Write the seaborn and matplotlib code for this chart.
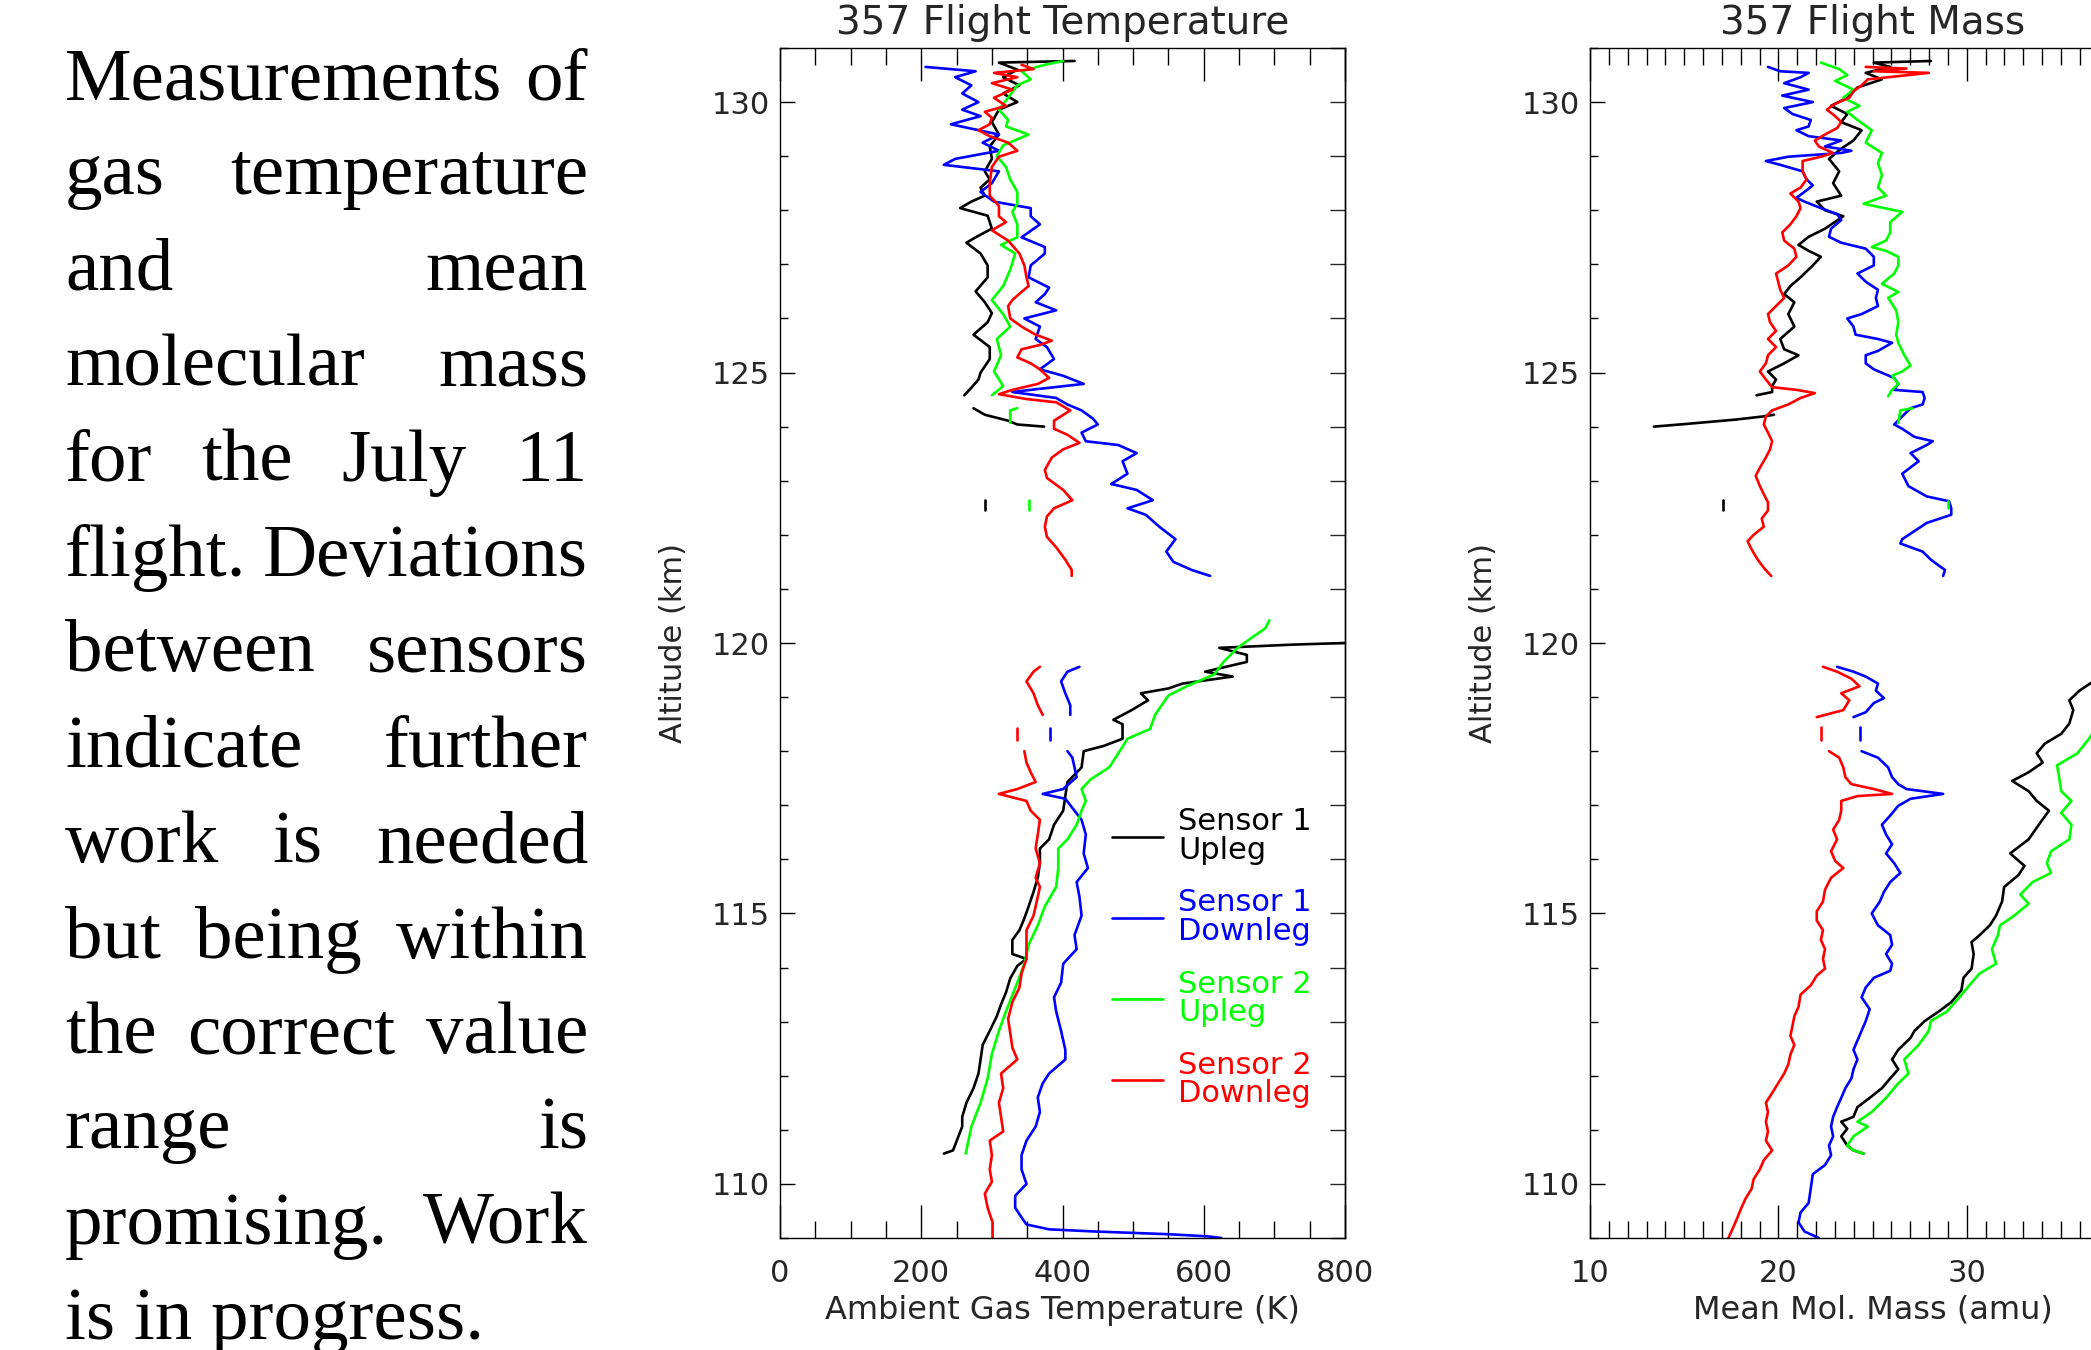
import numpy as np
import pandas as pd
import matplotlib
matplotlib.use("Agg")
import matplotlib.pyplot as plt
from matplotlib.lines import Line2D
from matplotlib.ticker import MultipleLocator
import seaborn as sns

nan = np.nan

# ==============================
#   DATA
# ==============================
SENSORS = ["S1 Upleg", "S1 Downleg", "S2 Upleg", "S2 Downleg"]
LEGEND_LABELS = ["Sensor 1\nUpleg", "Sensor 1\nDownleg", "Sensor 2\nUpleg", "Sensor 2\nDownleg"]
COLORS = ["#000000", "#0000ff", "#00ff00", "#ff0000"]

# --- temperature (K) vs altitude (km); nan = gap in the profile ---
temp_s1_up_alt = [110.56, 110.62, 111.06, 111.24, 111.50, 111.77, 112.04, 112.30, 112.57, 112.83,
                  113.10, 113.32, 113.54, 113.80, 114.03, 114.16, 114.25, 114.51, 114.69, 114.91,
                  115.13, 115.40, 115.66, 115.93, 116.20, 116.37, 116.64, 116.90, 117.17, 117.43,
                  117.70, 118.00, 118.10, 118.23, 118.50, 118.58, 118.76, 118.94, 119.07, 119.16,
                  119.25, 119.38, 119.47, 119.65, 119.78, 119.91, 119.97, 120.00,
                  nan, 122.45, 122.64,
                  nan, 124.00, 124.04, 124.11, 124.22, 124.34,
                  nan, 124.58, 124.72, 124.87, 125.00, 125.25, 125.47, 125.70, 125.93, 126.10, 126.30,
                  126.50, 126.76, 126.98, 127.20, 127.40, 127.50, 127.66, 127.90, 128.04, 128.16,
                  128.27, 128.42, 128.57, 128.72, 128.95, 129.18, 129.40, 129.63, 129.86, 130.00,
                  130.16, 130.31, 130.46, 130.60, 130.73, 130.76]
temp_s1_up_val = [232, 245, 258, 258, 264, 274, 281, 284, 287, 297,
                  307, 313, 320, 326, 336, 349, 329, 329, 339, 346,
                  352, 359, 365, 368, 368, 381, 388, 401, 404, 407,
                  427, 430, 459, 485, 485, 472, 498, 521, 511, 550,
                  570, 641, 602, 661, 661, 622, 726, 800,
                  nan, 290, 290,
                  nan, 374, 336, 323, 290, 274,
                  nan, 261, 271, 281, 284, 297, 297, 274, 294, 300, 290,
                  277, 294, 294, 284, 264, 277, 300, 294, 255, 271,
                  290, 284, 297, 290, 300, 297, 310, 300, 310, 336,
                  316, 339, 316, 336, 310, 417]

temp_s1_dn_alt = [109.00, 109.03, 109.07, 109.12, 109.16, 109.25, 109.38, 109.56, 109.78, 110.00,
                  110.27, 110.53, 110.80, 111.06, 111.33, 111.60, 111.86, 112.04, 112.30, 112.48,
                  112.83, 113.19, 113.45, 113.72, 114.07, 114.34, 114.60, 114.96, 115.31, 115.58,
                  115.84, 116.11, 116.46, 116.73, 116.90, 117.12, 117.21, 117.30, 117.52, 117.70,
                  117.88, 118.00,
                  nan, 118.20, 118.42,
                  nan, 118.67, 118.85, 119.07, 119.29, 119.47, 119.56,
                  nan, 121.24, 121.35, 121.50, 121.69, 121.92, 122.15, 122.37, 122.49, 122.64, 122.83,
                  122.94, 123.13, 123.36, 123.51, 123.66, 123.73, 123.89, 124.04, 124.15, 124.30,
                  124.41, 124.53, 124.64, 124.68, 124.79, 124.94, 125.06, 125.25, 125.47, 125.62,
                  125.85, 126.00, 126.15, 126.30, 126.45, 126.57, 126.76, 126.98, 127.20, 127.32,
                  127.50, 127.74, 127.89, 128.04, 128.16, 128.34, 128.50, 128.72, 128.84, 128.95,
                  129.10, 129.25, 129.40, 129.59, 129.74, 129.86, 130.00, 130.16, 130.31, 130.46,
                  130.57, 130.65]
temp_s1_dn_val = [625, 606, 550, 446, 381, 349, 342, 333, 333, 349,
                  342, 342, 349, 362, 368, 365, 372, 381, 404, 404,
                  398, 391, 388, 398, 401, 420, 417, 427, 424, 420,
                  436, 430, 433, 427, 417, 404, 372, 401, 420, 417,
                  414, 407,
                  nan, 383, 383,
                  nan, 411, 411, 404, 398, 407, 424,
                  nan, 609, 583, 557, 547, 560, 537, 518, 492, 528, 505,
                  469, 492, 485, 505, 479, 433, 427, 450, 443, 427,
                  407, 391, 329, 355, 430, 401, 368, 388, 378, 362,
                  368, 346, 391, 362, 375, 381, 352, 355, 375, 375,
                  342, 368, 355, 355, 303, 284, 300, 310, 232, 248,
                  310, 287, 310, 242, 284, 258, 281, 258, 271, 248,
                  277, 206]

temp_s2_up_alt = [110.56, 111.06, 111.50, 111.95, 112.40, 112.83, 113.19, 113.72, 114.07, 114.42,
                  114.78, 115.13, 115.49, 115.84, 116.20, 116.37, 116.64, 116.90, 117.08, 117.30,
                  117.48, 117.70, 117.96, 118.23, 118.41, 118.67, 119.03, 119.20, 119.42, 119.65,
                  119.91, 120.09, 120.27, 120.42,
                  nan, 122.45, 122.64,
                  nan, 124.07, 124.30, 124.34,
                  nan, 124.58, 124.75, 125.02, 125.32, 125.62, 125.85, 126.08, 126.34, 126.60, 126.90,
                  127.20, 127.36, 127.50, 127.74, 127.97, 128.12, 128.34, 128.57, 128.80, 129.00,
                  129.20, 129.40, 129.55, 129.67, 129.86, 130.08, 130.31, 130.42, 130.57, 130.69,
                  130.76]
temp_s2_up_val = [263, 271, 284, 294, 300, 310, 320, 336, 346, 352,
                  365, 375, 391, 394, 394, 407, 420, 427, 433, 427,
                  440, 466, 479, 492, 524, 531, 550, 576, 615, 628,
                  648, 667, 687, 693,
                  nan, 353, 353,
                  nan, 326, 326, 336,
                  nan, 300, 316, 303, 313, 307, 326, 316, 300, 316, 326,
                  333, 313, 336, 336, 329, 336, 336, 326, 320, 307,
                  316, 352, 320, 323, 310, 323, 336, 355, 342, 375,
                  401]

temp_s2_dn_alt = [109.00, 109.29, 109.56, 109.82, 110.04, 110.27, 110.53, 110.80, 110.97, 111.24,
                  111.50, 111.77, 112.04, 112.30, 112.52, 112.79, 113.05, 113.36, 113.63, 113.89,
                  114.16, 114.47, 114.69, 114.96, 115.31, 115.49, 115.66, 115.93, 116.20, 116.46,
                  116.73, 116.90, 117.08, 117.21, 117.30, 117.43, 117.61, 117.79, 118.00,
                  nan, 118.20, 118.42,
                  nan, 118.67, 118.85, 119.07, 119.29, 119.47, 119.56,
                  nan, 121.24, 121.35, 121.54, 121.77, 121.96, 122.15, 122.34, 122.49, 122.64, 122.83,
                  123.05, 123.20, 123.43, 123.58, 123.70, 123.85, 123.96, 124.11, 124.30, 124.45,
                  124.51, 124.60, 124.68, 124.79, 124.90, 125.06, 125.17, 125.28, 125.43, 125.51,
                  125.59, 125.70, 125.85, 126.00, 126.23, 126.34, 126.49, 126.60, 126.76, 126.98,
                  127.20, 127.44, 127.63, 127.78, 127.89, 128.08, 128.27, 128.50, 128.80, 128.99,
                  129.10, 129.25, 129.37, 129.48, 129.59, 129.71, 129.82, 129.93, 130.08, 130.23,
                  130.35, 130.46, 130.54, 130.61, 130.69]
temp_s2_dn_val = [301, 301, 294, 290, 300, 297, 300, 297, 316, 313,
                  310, 316, 313, 336, 329, 326, 323, 329, 339, 342,
                  349, 349, 349, 359, 365, 368, 362, 368, 362, 365,
                  368, 355, 349, 310, 336, 362, 355, 349, 346,
                  nan, 336, 336,
                  nan, 372, 365, 359, 349, 359, 368,
                  nan, 413, 413, 404, 391, 378, 375, 378, 388, 414, 401,
                  378, 375, 385, 401, 424, 407, 388, 388, 411, 391,
                  349, 310, 329, 365, 381, 368, 355, 336, 342, 368,
                  385, 362, 342, 326, 323, 329, 342, 352, 349, 346,
                  339, 323, 300, 320, 310, 310, 297, 297, 300, 310,
                  336, 323, 297, 281, 297, 300, 290, 320, 303, 329,
                  300, 336, 303, 359, 342]

# --- mean molecular mass (amu) vs altitude (km) ---
mass_s1_up_alt = [110.56, 110.62, 110.71, 110.88, 111.02, 111.15, 111.24, 111.42, 111.59, 111.77,
                  111.95, 112.12, 112.30, 112.48, 112.70, 112.83, 113.01, 113.19, 113.36, 113.58,
                  113.81, 113.98, 114.25, 114.47, 114.60, 114.78, 114.96, 115.22, 115.49, 115.71,
                  115.88, 116.11, 116.37, 116.64, 116.90, 117.08, 117.26, 117.45, 117.61, 117.79,
                  117.96, 118.14, 118.32, 118.51, 118.76, 118.94, 119.12, 119.40, 119.70, 120.00,
                  nan, 122.45, 122.64,
                  nan, 124.00, 124.05, 124.13, 124.19, 124.22,
                  nan, 124.58, 124.64, 124.75, 124.87, 125.02, 125.17, 125.32, 125.43, 125.62, 125.85,
                  126.08, 126.30, 126.45, 126.60, 126.76, 126.98, 127.14, 127.25, 127.36, 127.51,
                  127.66, 127.89, 128.00, 128.16, 128.27, 128.50, 128.72, 128.95, 129.14, 129.29,
                  129.48, 129.63, 129.78, 129.93, 130.08, 130.27, 130.42, 130.54, 130.65, 130.73,
                  130.76]
mass_s1_up_val = [24.53, 23.99, 23.66, 23.34, 23.66, 23.34, 23.99, 24.20, 24.85, 25.50,
                  25.94, 26.37, 26.04, 26.37, 27.02, 27.23, 27.77, 28.53, 29.18, 29.72,
                  29.83, 30.26, 30.37, 30.26, 30.69, 31.23, 31.56, 31.88, 31.99, 32.75,
                  33.07, 32.31, 33.29, 33.83, 34.37, 33.72, 33.29, 32.42, 33.29, 34.04,
                  33.72, 34.15, 35.02, 35.45, 35.66, 35.45, 35.99, 37.20, 38.40, 39.50,
                  nan, 17.07, 17.07,
                  nan, 13.39, 15.12, 17.72, 19.23, 19.77,
                  nan, 18.84, 19.67, 19.67, 19.88, 19.45, 20.31, 21.07, 20.31, 20.10, 20.85,
                  20.53, 20.85, 20.31, 20.64, 21.18, 21.83, 22.26, 21.61, 21.07, 21.61,
                  22.48, 23.45, 22.48, 22.04, 23.34, 22.91, 23.23, 22.69, 23.34, 23.99,
                  24.42, 23.34, 23.66, 22.80, 23.66, 24.20, 25.50, 24.64, 25.94, 25.07,
                  28.10]

mass_s1_dn_alt = [109.00, 109.12, 109.29, 109.47, 109.65, 109.91, 110.18, 110.35, 110.53, 110.71,
                  110.88, 111.06, 111.24, 111.42, 111.59, 111.77, 111.95, 112.12, 112.30, 112.48,
                  112.65, 112.83, 113.01, 113.23, 113.45, 113.63, 113.81, 113.94, 114.07, 114.25,
                  114.42, 114.60, 114.78, 115.00, 115.22, 115.40, 115.58, 115.75, 115.93, 116.11,
                  116.28, 116.46, 116.64, 116.81, 116.99, 117.12, 117.21, 117.30, 117.39, 117.52,
                  117.70, 117.88, 118.00,
                  nan, 118.20, 118.45,
                  nan, 118.63, 118.72, 118.89, 118.98, 119.12, 119.25, 119.38, 119.47, 119.56,
                  nan, 121.24, 121.35, 121.43, 121.54, 121.69, 121.84, 121.92, 122.07, 122.22, 122.37,
                  122.49, 122.62, 122.71, 122.90, 123.13, 123.36, 123.51, 123.66, 123.73, 123.81,
                  123.96, 124.04, 124.19, 124.34, 124.41, 124.53, 124.64, 124.68, 124.79, 124.90,
                  125.06, 125.17, 125.32, 125.40, 125.55, 125.62, 125.70, 125.85, 126.00, 126.08,
                  126.23, 126.38, 126.53, 126.68, 126.83, 126.98, 127.14, 127.29, 127.40, 127.51,
                  127.66, 127.82, 127.93, 128.04, 128.16, 128.23, 128.34, 128.46, 128.57, 128.72,
                  128.84, 128.91, 128.99, 129.06, 129.10, 129.18, 129.29, 129.37, 129.48, 129.55,
                  129.67, 129.78, 129.89, 130.00, 130.12, 130.23, 130.35, 130.46, 130.54, 130.57,
                  130.65]
mass_s1_dn_val = [22.15, 21.39, 21.07, 21.18, 21.61, 21.72, 21.83, 22.48, 22.80, 22.69,
                  22.91, 22.80, 22.91, 23.12, 23.34, 23.56, 23.88, 23.99, 24.20, 23.99,
                  24.20, 24.42, 24.64, 24.85, 24.42, 24.64, 25.07, 25.94, 26.04, 25.72,
                  26.04, 25.94, 25.29, 24.96, 25.39, 25.61, 25.94, 26.48, 26.15, 25.72,
                  26.04, 25.72, 25.50, 25.94, 26.37, 27.02, 28.75, 26.80, 26.37, 26.04,
                  25.83, 25.29, 24.42,
                  nan, 24.31, 24.31,
                  nan, 23.99, 24.64, 25.07, 25.61, 25.18, 25.29, 24.64, 23.99, 23.12,
                  nan, 28.75, 28.85, 28.53, 28.10, 27.66, 26.48, 26.58, 27.23, 27.88, 29.18,
                  29.18, 29.07, 27.88, 26.91, 26.58, 27.45, 27.02, 27.88, 28.20, 27.23,
                  26.58, 26.15, 26.58, 27.02, 27.66, 27.77, 27.66, 26.15, 26.37, 26.15,
                  25.07, 24.64, 24.64, 25.29, 26.04, 25.29, 24.10, 23.99, 23.66, 24.42,
                  25.29, 25.18, 25.29, 24.64, 24.20, 25.07, 25.07, 24.64, 23.34, 22.69,
                  22.80, 23.34, 23.12, 22.26, 21.39, 20.96, 21.39, 21.83, 21.50, 21.29,
                  20.10, 19.34, 20.53, 23.34, 23.88, 22.48, 23.34, 21.61, 20.96, 21.61,
                  21.72, 20.75, 20.31, 21.83, 20.21, 21.61, 20.31, 21.18, 21.61, 20.10,
                  19.45]

mass_s2_up_alt = [110.56, 110.62, 110.71, 110.88, 111.06, 111.15, 111.33, 111.59, 111.86, 112.04,
                  112.30, 112.57, 112.83, 113.01, 113.19, 113.45, 113.72, 113.89, 114.07, 114.34,
                  114.60, 114.78, 114.96, 115.18, 115.35, 115.58, 115.75, 115.93, 116.15, 116.37,
                  116.64, 116.86, 117.08, 117.26, 117.52, 117.74, 117.96, 118.23, 118.80, 119.40,
                  120.00,
                  nan, 122.50, 122.62,
                  nan, 124.07, 124.30, 124.34,
                  nan, 124.56, 124.68, 124.79, 124.94, 125.02, 125.13, 125.32, 125.55, 125.70, 125.93,
                  126.15, 126.38, 126.49, 126.64, 126.83, 126.98, 127.14, 127.25, 127.32, 127.44,
                  127.59, 127.78, 127.97, 128.12, 128.27, 128.42, 128.65, 128.87, 129.06, 129.25,
                  129.48, 129.67, 129.82, 129.93, 130.08, 130.23, 130.39, 130.50, 130.61, 130.73]
mass_s2_up_val = [24.53, 23.99, 23.66, 23.99, 24.75, 24.20, 24.96, 25.72, 26.37, 26.91,
                  26.69, 27.45, 27.99, 28.10, 28.96, 29.61, 30.26, 30.69, 31.56, 31.34,
                  31.66, 31.77, 32.53, 33.29, 32.85, 33.50, 34.48, 34.26, 34.48, 35.45,
                  35.56, 35.02, 35.56, 35.02, 34.91, 34.80, 35.88, 36.49, 37.60, 38.70,
                  39.80,
                  nan, 29.00, 29.00,
                  nan, 26.37, 26.48, 27.12,
                  nan, 25.83, 26.04, 26.37, 26.04, 26.58, 27.02, 26.69, 26.37, 26.26, 26.37,
                  26.26, 25.83, 26.37, 25.50, 26.15, 26.37, 26.37, 25.72, 24.96, 25.72,
                  25.94, 25.94, 26.58, 24.53, 25.72, 25.29, 25.50, 25.29, 25.50, 24.64,
                  24.96, 24.20, 23.66, 24.31, 23.45, 23.99, 23.02, 23.66, 23.23, 22.26]

mass_s2_dn_alt = [109.00, 109.20, 109.38, 109.56, 109.73, 109.91, 110.09, 110.27, 110.44, 110.62,
                  110.80, 110.97, 111.15, 111.33, 111.50, 111.68, 111.86, 112.04, 112.21, 112.39,
                  112.57, 112.74, 112.92, 113.10, 113.27, 113.50, 113.67, 113.85, 113.98, 114.16,
                  114.34, 114.51, 114.69, 114.87, 115.04, 115.22, 115.44, 115.66, 115.84, 115.97,
                  116.15, 116.37, 116.55, 116.73, 116.90, 117.08, 117.17, 117.21, 117.30, 117.39,
                  117.52, 117.70, 117.88, 118.00,
                  nan, 118.20, 118.45,
                  nan, 118.63, 118.76, 118.94, 119.07, 119.20, 119.34, 119.47, 119.56,
                  nan, 121.24, 121.39, 121.54, 121.73, 121.88, 122.00, 122.15, 122.30, 122.45, 122.60,
                  122.75, 122.90, 123.09, 123.24, 123.43, 123.58, 123.73, 123.89, 124.04, 124.19,
                  124.30, 124.41, 124.53, 124.62, 124.68, 124.73, 124.87, 125.02, 125.17, 125.32,
                  125.47, 125.62, 125.77, 125.93, 126.08, 126.23, 126.38, 126.53, 126.68, 126.83,
                  126.98, 127.14, 127.29, 127.44, 127.59, 127.74, 127.89, 128.04, 128.16, 128.31,
                  128.42, 128.57, 128.72, 128.91, 128.99, 129.06, 129.18, 129.29, 129.40, 129.52,
                  129.63, 129.74, 129.86, 129.97, 130.08, 130.20, 130.31, 130.42, 130.54, 130.57,
                  130.62, 130.65]
mass_s2_dn_val = [17.35, 17.61, 17.83, 18.04, 18.26, 18.58, 18.69, 19.02, 19.23, 19.67,
                  19.34, 19.45, 19.34, 19.45, 19.34, 19.67, 19.99, 20.31, 20.53, 20.64,
                  20.85, 20.64, 20.75, 20.85, 21.07, 21.18, 21.72, 22.04, 22.48, 22.37,
                  22.48, 22.26, 22.37, 22.04, 22.04, 22.37, 22.48, 22.80, 23.45, 23.02,
                  22.80, 23.12, 22.91, 23.23, 23.34, 23.34, 24.20, 26.04, 25.07, 23.88,
                  23.56, 23.45, 23.23, 22.69,
                  nan, 22.26, 22.26,
                  nan, 22.04, 23.45, 23.77, 23.34, 24.31, 23.88, 23.12, 22.37,
                  nan, 19.62, 19.23, 18.91, 18.58, 18.37, 18.69, 19.23, 19.12, 19.45, 19.45,
                  19.23, 19.02, 18.80, 19.02, 19.34, 19.56, 19.67, 19.45, 19.23, 19.34,
                  19.67, 20.53, 21.18, 21.94, 20.96, 19.67, 19.34, 19.02, 19.34, 19.45,
                  19.88, 19.45, 19.88, 19.56, 19.45, 19.88, 20.31, 20.10, 19.99, 19.88,
                  20.53, 20.96, 20.85, 20.31, 20.21, 20.64, 20.96, 21.18, 21.07, 20.64,
                  21.18, 21.50, 21.29, 21.29, 22.26, 22.91, 22.15, 21.94, 22.48, 23.12,
                  23.34, 23.02, 22.58, 23.02, 23.77, 23.99, 24.42, 24.75, 27.99, 25.07,
                  26.80, 24.64]

TEXT_LINES = ["Measurements of", "gas temperature", "and mean", "molecular mass",
              "for the July 11", "flight. Deviations", "between sensors", "indicate further",
              "work is needed", "but being within", "the correct value", "range is",
              "promising. Work", "is in progress."]

# ==============================
#          HELPERS
# ==============================
def to_frame(sensor, vals, alts):
    df = pd.DataFrame({"value": vals, "alt": alts})
    df["seg"] = df["value"].isna().cumsum()
    df = df.dropna().copy()
    df["sensor"] = sensor
    df["unit"] = sensor + "_" + df["seg"].astype(str)
    return df

temp_df = pd.concat([
    to_frame(SENSORS[0], temp_s1_up_val, temp_s1_up_alt),
    to_frame(SENSORS[1], temp_s1_dn_val, temp_s1_dn_alt),
    to_frame(SENSORS[2], temp_s2_up_val, temp_s2_up_alt),
    to_frame(SENSORS[3], temp_s2_dn_val, temp_s2_dn_alt),
])
mass_df = pd.concat([
    to_frame(SENSORS[0], mass_s1_up_val, mass_s1_up_alt),
    to_frame(SENSORS[1], mass_s1_dn_val, mass_s1_dn_alt),
    to_frame(SENSORS[2], mass_s2_up_val, mass_s2_up_alt),
    to_frame(SENSORS[3], mass_s2_dn_val, mass_s2_dn_alt),
])

sns.set_style("white")
plt.rcParams["font.family"] = ["DejaVu Sans"]
TXT = "#262626"
FS = 22
LW = 1.9

W, H = 2091, 1350
fig = plt.figure(figsize=(W / 100, H / 100), dpi=100)
palette = dict(zip(SENSORS, COLORS))


def style_axes(ax, xlim, xmaj, xmin, title, xlabel):
    ax.set_xlim(*xlim)
    ax.set_ylim(109, 131)
    ax.xaxis.set_major_locator(MultipleLocator(xmaj))
    ax.xaxis.set_minor_locator(MultipleLocator(xmin))
    ax.yaxis.set_major_locator(MultipleLocator(5))
    ax.yaxis.set_minor_locator(MultipleLocator(1))
    ax.tick_params(axis="x", which="both", direction="in", top=True, bottom=True,
                   width=1.0, color="black", labelsize=FS, labelcolor=TXT)
    ax.tick_params(axis="x", which="major", length=24, pad=15)
    ax.tick_params(axis="x", which="minor", length=12)
    ax.tick_params(axis="y", which="both", direction="in", left=True, right=False,
                   width=1.0, color="black", labelsize=FS, labelcolor=TXT)
    ax.tick_params(axis="y", which="major", length=11, pad=7)
    ax.tick_params(axis="y", which="minor", length=5.5)
    sec = ax.secondary_yaxis("right")
    sec.yaxis.set_major_locator(MultipleLocator(1))
    sec.tick_params(direction="in", length=11, width=1.0, labelright=False)
    for sp in list(ax.spines.values()) + list(sec.spines.values()):
        sp.set_linewidth(1.0)
        sp.set_color("black")
    ax.set_title(title, fontsize=28, color=TXT, pad=10)
    ax.set_xlabel(xlabel, fontsize=23, color=TXT, labelpad=5)
    ax.set_ylabel("Altitude (km)", fontsize=FS, color=TXT, labelpad=17)


# -------------------------------
# Temperature panel
# -------------------------------
ax_t = fig.add_axes([780 / W, 1 - 1238 / H, 565 / W, 1190 / H])
sns.lineplot(data=temp_df, x="value", y="alt", hue="sensor", hue_order=SENSORS,
             units="unit", estimator=None, sort=False, orient="y", palette=palette,
             linewidth=LW, legend=False, ax=ax_t)
style_axes(ax_t, (0, 800), 200, 50, "357 Flight Temperature", "Ambient Gas Temperature (K)")

handles = [Line2D([], [], color=c, lw=LW) for c in COLORS]
leg = ax_t.legend(handles, LEGEND_LABELS, loc="upper left", bbox_to_anchor=(0.588, 0.362),
                  frameon=False, fontsize=FS, handlelength=1.65, handletextpad=0.5,
                  labelspacing=0.78, borderpad=0, borderaxespad=0, labelcolor=COLORS)
for t in leg.get_texts():
    t.set_linespacing(0.97)

# -------------------------------
# Mass panel (runs off the right edge)
# -------------------------------
ax_m = fig.add_axes([1590 / W, 1 - 1238 / H, 565 / W, 1190 / H])
sns.lineplot(data=mass_df, x="value", y="alt", hue="sensor", hue_order=SENSORS,
             units="unit", estimator=None, sort=False, orient="y", palette=palette,
             linewidth=LW, legend=False, ax=ax_m)
style_axes(ax_m, (10, 40), 10, 1, "357 Flight Mass", "Mean Mol. Mass (amu)")

# -------------------------------
# Justified caption on the left
# -------------------------------
renderer = fig.canvas.get_renderer()
x0, x1 = 65, 588
base0, pitch = 99, 95.4
cap_kw = dict(family="Liberation Serif", fontsize=54, va="baseline", color="black")
for i, line in enumerate(TEXT_LINES):
    y = 1 - (base0 + i * pitch) / H
    words = line.split()
    if i == len(TEXT_LINES) - 1 or len(words) < 2:
        fig.text(x0 / W, y, line, **cap_kw)
        continue
    arts = [fig.text(0, y, w, **cap_kw) for w in words]
    widths = [a.get_window_extent(renderer).width for a in arts]
    gap = (x1 - x0 - sum(widths)) / (len(words) - 1)
    x = x0
    for a, wd in zip(arts, widths):
        a.set_x(x / W)
        x += wd + gap

fig.savefig("out.png", dpi=100)
